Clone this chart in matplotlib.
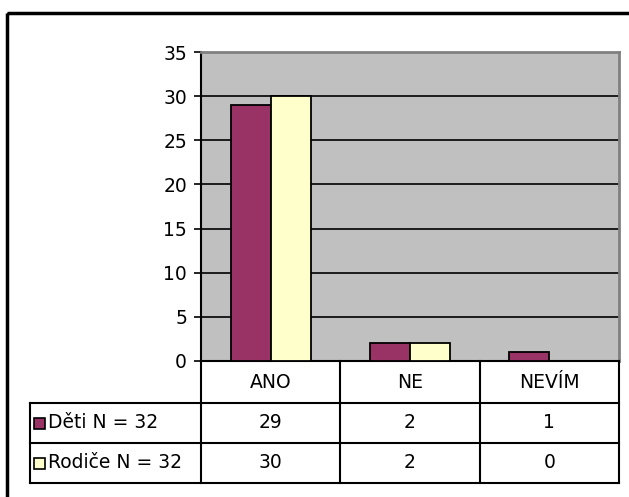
import numpy as np
import matplotlib; matplotlib.use("Agg"); import matplotlib.pyplot as plt
from matplotlib.patches import Rectangle

plt.rcParams['font.family'] = ['DejaVu Sans']

categories = ["ANO", "NE", "NEVÍM"]
series = ["Děti N = 32", "Rodiče N = 32"]
deti = [29, 2, 1]
rodice = [30, 2, 0]
colors = ["#993366", "#FFFFCC"]

W, H = 629, 497
fs = 13.5
fig = plt.figure(figsize=(W/100, H/100), dpi=100)

# pixel layout of the plot area and table
px_l, px_r, px_top, px_zero = 201, 619, 52, 361
row_y = [361, 403, 443, 483]
tab_l = 30

ax = fig.add_axes([px_l/W, (H-px_zero)/H, (px_r-px_l)/W, (px_zero-px_top)/H])
ax.set_facecolor("#C0C0C0")
x = np.arange(len(categories))
bw = 0.287
for i, (vals, c) in enumerate(zip([deti, rodice], colors)):
    ax.bar(x + (i-0.5)*bw, vals, width=bw, color=c, edgecolor="black", lw=1.3, zorder=3)
ax.set_xlim(-0.5, len(categories)-0.5)
ax.set_ylim(0, 35)
ax.set_yticks(range(0, 36, 5))
for y in range(5, 35, 5):
    ax.axhline(y, color="black", lw=1.2, zorder=1)
ax.set_xticks([])
ax.tick_params(axis="y", length=5, width=1.2, labelsize=fs, pad=5)
ax.spines["left"].set_linewidth(1.5)
ax.spines["bottom"].set_linewidth(1.5)
ax.spines["top"].set_color("#808080"); ax.spines["top"].set_linewidth(2)
ax.spines["right"].set_color("#808080"); ax.spines["right"].set_linewidth(2)

# overlay in pixel units for frame and data table
ov = fig.add_axes([0, 0, 1, 1], zorder=-1)
ov.set_xlim(0, W); ov.set_ylim(H, 0); ov.axis("off")
ov.add_patch(Rectangle((7, 13), W*2, H*2, fill=False, ec="black", lw=2.5))

top = fig.add_axes([0, 0, 1, 1], zorder=5)
top.set_xlim(0, W); top.set_ylim(H, 0); top.axis("off"); top.patch.set_alpha(0)
colw = (px_r - px_l) / len(categories)
cols = [px_l + k*colw for k in range(len(categories)+1)]
lk = dict(color="black", lw=1.5)
top.plot([px_l, px_l], [row_y[0], row_y[-1]], **lk)
for cx in cols[1:]:
    top.plot([cx, cx], [row_y[0], row_y[-1]], **lk)
top.plot([tab_l, tab_l], [row_y[1], row_y[-1]], **lk)
for ry in row_y[1:]:
    top.plot([tab_l, px_r], [ry, ry], **lk)
for k, cat in enumerate(categories):
    top.text((cols[k]+cols[k+1])/2, (row_y[0]+row_y[1])/2, cat, ha="center", va="center", fontsize=fs)
for r, (name, vals, c) in enumerate(zip(series, [deti, rodice], colors)):
    yc = (row_y[r+1]+row_y[r+2])/2
    top.add_patch(Rectangle((tab_l+4, yc-5.5), 11, 11, fc=c, ec="black", lw=1.2))
    top.text(tab_l+18, yc, name, ha="left", va="center", fontsize=fs)
    for k, v in enumerate(vals):
        top.text((cols[k]+cols[k+1])/2, yc, str(v), ha="center", va="center", fontsize=fs)

fig.savefig("out.png", dpi=100)
